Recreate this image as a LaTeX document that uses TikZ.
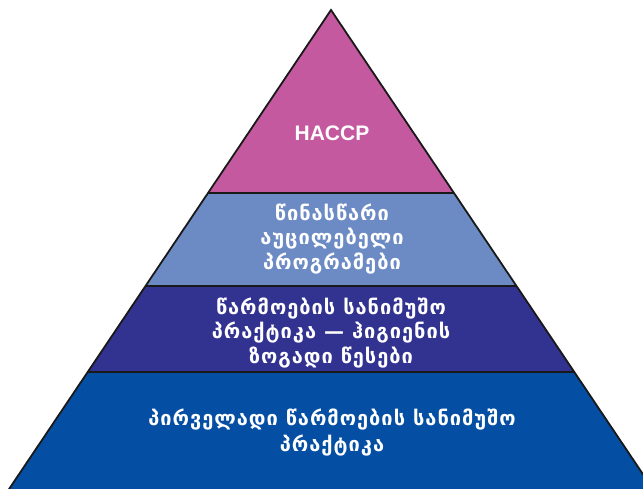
\documentclass[tikz,border=0pt]{standalone}
\usepackage{fontspec}
\setmainfont{Liberation Sans}
\newfontfamily\geofont[LetterSpace=5]{DejaVu Sans}
\usetikzlibrary{calc}

\definecolor{haccppink}{RGB}{196,89,160}
\definecolor{prpblue}{RGB}{108,139,196}
\definecolor{gmpindigo}{RGB}{50,50,145}
\definecolor{basicblue}{RGB}{4,78,163}

\begin{document}
\begin{tikzpicture}[x=1pt,y=-1pt]
% Define styles
\tikzstyle{tierline} = [draw=black!90, line width=1.8pt, line join=miter]
\tikzstyle{tiertext} = [text=white, align=center, font=\geofont\bfseries\fontsize{20}{24.5}\selectfont]

\useasboundingbox (0,0) rectangle (643,489);
\clip (0,0) rectangle (643,489);

% Corners of the pyramid
\coordinate (apex) at (331,10);
\coordinate (baseL) at (6.4,493);
\coordinate (baseR) at (655.6,493);
\coordinate (l1) at ($(apex)!0.379!(baseL)$);
\coordinate (r1) at ($(apex)!0.379!(baseR)$);
\coordinate (l2) at ($(apex)!0.571!(baseL)$);
\coordinate (r2) at ($(apex)!0.571!(baseR)$);
\coordinate (l3) at ($(apex)!0.7495!(baseL)$);
\coordinate (r3) at ($(apex)!0.7495!(baseR)$);

% Fill the tiers
\fill [haccppink] (apex) -- (r1) -- (l1) -- cycle;
\fill [prpblue] (l1) -- (r1) -- (r2) -- (l2) -- cycle;
\fill [gmpindigo] (l2) -- (r2) -- (r3) -- (l3) -- cycle;
\fill [basicblue] (l3) -- (r3) -- (baseR) -- (baseL) -- cycle;

% Outlines
\draw [tierline] (baseL) -- (apex) -- (baseR);
\draw [tierline] (l1) -- (r1);
\draw [tierline] (l2) -- (r2);
\draw [tierline] (l3) -- (r3);

% Tier texts
\node [tiertext, font=\bfseries\fontsize{21}{22}\selectfont] (haccp) at (332,133) {HACCP};
\node [tiertext] (prp) at (332,239) {წინასწარი\\აუცილებელი\\პროგრამები};
\node [tiertext] (gmp) at (331,333) {წარმოების სანიმუშო\\პრაქტიკა — ჰიგიენის\\ზოგადი წესები};
\node [tiertext, font=\geofont\bfseries\fontsize{20}{26}\selectfont] (pgmp) at (332,433) {პირველადი წარმოების სანიმუშო\\პრაქტიკა};
\end{tikzpicture}
\end{document}
